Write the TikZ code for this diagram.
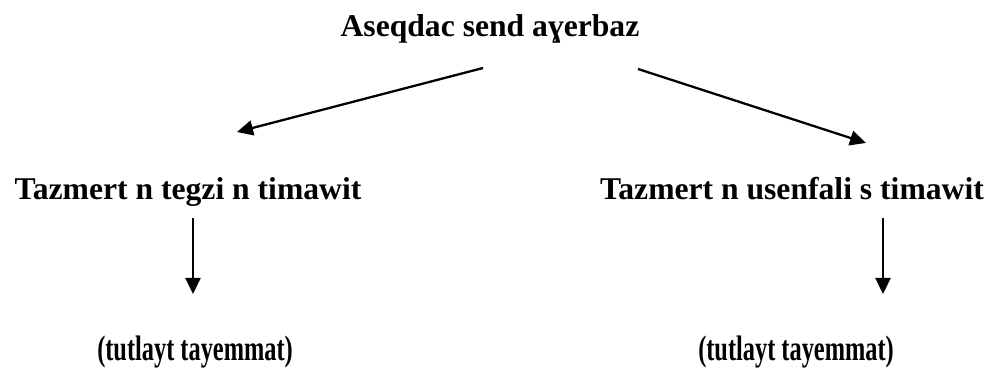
\documentclass[tikz,border=0pt]{standalone}
\usepackage{fontspec}
\usepackage{graphicx}
\setmainfont{Liberation Serif}
\usetikzlibrary{arrows.meta}
\tikzset{
  txt/.style={font=\fontsize{18}{21}\selectfont\bfseries, inner sep=0pt, anchor=base},
  arr/.style={line width=1.3pt, -{Triangle[length=0.32cm,width=0.3cm]}}
}
\begin{document}
\begin{tikzpicture}
      \useasboundingbox (0,0) rectangle (19.82,7.42);
      \node[txt] (title) at (9.8,6.68) {Aseqdac send aɣerbaz};
      \node[txt] (oral) at (3.76,3.42) {Tazmert n tegzi n timawit};
      \node[txt] (prod) at (15.84,3.42) {Tazmert n usenfali s timawit};
      \node[txt] (oralsub) at (3.9,0.2) {\scalebox{0.77}[1.12]{(tutlayt tayemmat)}};
      \node[txt] (prodsub) at (15.92,0.2) {\scalebox{0.77}[1.12]{(tutlayt tayemmat)}};
      % arrow ends
      \coordinate (ls) at (9.66,6.06);
      \coordinate (le) at (4.74,4.78);
      \coordinate (rs) at (12.76,6.04);
      \coordinate (re) at (17.32,4.56);
      \coordinate (ld) at (3.86,3.06);
      \coordinate (ldd) at (3.86,1.54);
      \coordinate (rd) at (17.66,3.06);
      \coordinate (rdd) at (17.66,1.54);
      \draw[arr] (ls) -- (le);
      \draw[arr] (rs) -- (re);
      \draw[arr] (ld) -- (ldd);
      \draw[arr] (rd) -- (rdd);
    \end{tikzpicture}
\end{document}
